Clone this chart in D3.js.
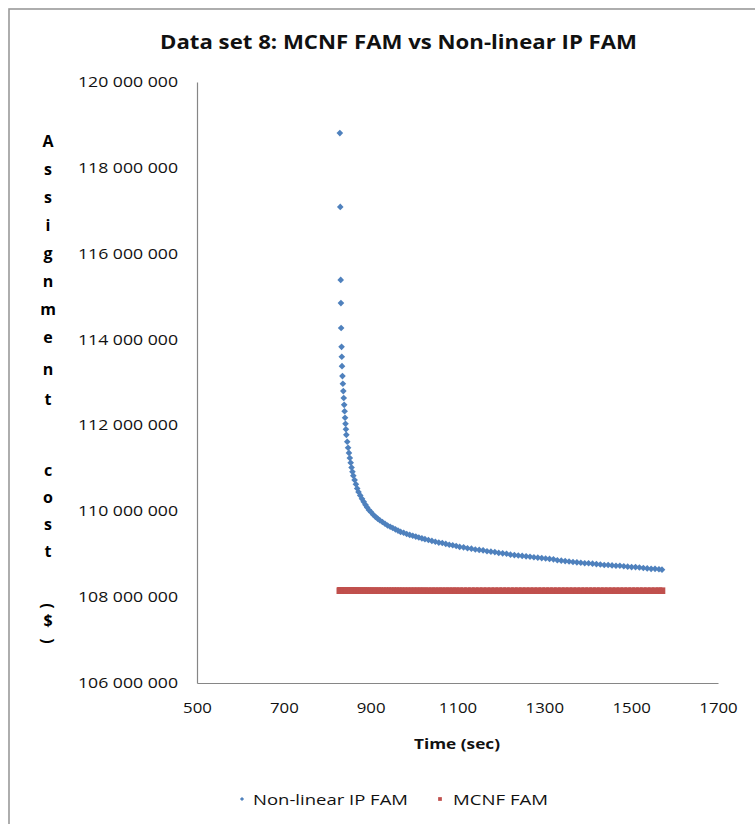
<!DOCTYPE html>
<html>
<head>
<meta charset="utf-8">
<script src="https://cdn.jsdelivr.net/npm/d3@7"></script>
<style>
  body { margin: 0; background: #fff; }
  text { font-family: "Open Sans", "DejaVu Sans", sans-serif; }
</style>
</head>
<body>
<svg id="chart" width="755" height="824"></svg>
<script>
// ---- data ----
const chartTitle = "Data set 8: MCNF FAM vs Non-linear IP FAM";
const xTitle = "Time (sec)";
const yTitle = "Assignment cost ($)";
const seriesNames = ["Non-linear IP FAM", "MCNF FAM"];

const xTicks = [500, 700, 900, 1100, 1300, 1500, 1700];
const yTicksM = [106, 108, 110, 112, 114, 116, 118, 120];   // millions of $

// solve times (sec) of the non-linear IP iterations
const timeSec = [
  829, 830, 831, 831.5, 832, 833, 833.5, 834, 835, 836,
  837, 838, 839, 840, 841, 842, 843, 844, 846, 848,
  850, 852, 854, 856, 858, 860, 863, 866, 869, 872,
  876, 880, 884, 888, 892, 896, 901, 906, 911, 916,
  921, 927, 933, 939, 945, 951, 957, 963, 969, 976,
  983, 990, 997, 1004, 1011, 1018, 1025, 1033, 1041, 1049,
  1057, 1065, 1073, 1081, 1089, 1097, 1105, 1114, 1123, 1132,
  1141, 1150, 1159, 1168, 1177, 1186, 1195, 1204, 1213, 1222,
  1231, 1240, 1249, 1258, 1267, 1276, 1285, 1294, 1303, 1312,
  1321, 1330, 1339, 1348, 1357, 1366, 1375, 1384, 1393, 1402,
  1411, 1420, 1429, 1438, 1447, 1456, 1465, 1474, 1483, 1492,
  1501, 1510, 1519, 1528, 1537, 1546, 1555, 1564, 1571
];

// Non-linear IP FAM assignment cost at each time (millions of $)
const nlipCostM = [
  118.81, 117.09, 115.39, 114.85, 114.27, 113.83, 113.60, 113.38, 113.15, 112.97,
  112.80, 112.64, 112.48, 112.33, 112.18, 112.04, 111.91, 111.78, 111.62, 111.48,
  111.36, 111.24, 111.13, 111.02, 110.92, 110.83, 110.73, 110.63, 110.53, 110.45,
  110.37, 110.29, 110.22, 110.15, 110.09, 110.03, 109.98, 109.92, 109.87, 109.83,
  109.79, 109.75, 109.71, 109.67, 109.64, 109.61, 109.58, 109.55, 109.52, 109.50,
  109.47, 109.45, 109.43, 109.41, 109.39, 109.37, 109.35, 109.33, 109.31, 109.29,
  109.27, 109.26, 109.24, 109.22, 109.21, 109.19, 109.17, 109.16, 109.14, 109.13,
  109.11, 109.10, 109.09, 109.07, 109.06, 109.05, 109.03, 109.02, 109.01, 108.99,
  108.98, 108.97, 108.96, 108.95, 108.94, 108.93, 108.92, 108.91, 108.90, 108.89,
  108.88, 108.86, 108.85, 108.84, 108.83, 108.82, 108.81, 108.80, 108.79, 108.79,
  108.78, 108.77, 108.76, 108.75, 108.75, 108.74, 108.73, 108.73, 108.72, 108.71,
  108.70, 108.70, 108.69, 108.68, 108.67, 108.66, 108.66, 108.65, 108.64
];

// MCNF FAM optimum (millions of $), shown at every iteration time
const mcnfCostM = 108.15;

// ---- drawing ----
const blue = "#4F81BD", red = "#C0504D", ink = "#111";
const svg = d3.select("#chart");

svg.append("rect").attr("width", 755).attr("height", 824).attr("fill", "#fff");
// chart-area frame
svg.append("rect")
  .attr("x", 9).attr("y", 9).attr("width", 770).attr("height", 840)
  .attr("fill", "none").attr("stroke", "#9a9a9a").attr("stroke-width", 1.6);

const x = d3.scaleLinear().domain([500, 1700]).range([197, 718]);
const y = d3.scaleLinear().domain([106, 120]).range([683, 82]);

function stretchTo(sel, w) {
  sel.attr("textLength", w).attr("lengthAdjust", "spacingAndGlyphs");
}

// title
const t = svg.append("text")
  .attr("x", 398.5).attr("y", 49)
  .attr("text-anchor", "middle")
  .attr("font-size", 19).attr("font-weight", 700).attr("fill", ink)
  .text(chartTitle);
stretchTo(t, 477);

// y axis
const fmtCost = v => d3.format(",")(Math.round(v * 1e6)).replace(/,/g, " ");
const yAxis = svg.append("g")
  .attr("transform", `translate(${x(500)},0)`)
  .call(d3.axisLeft(y).tickValues(yTicksM).tickFormat(fmtCost).tickSize(0).tickPadding(19));
yAxis.select(".domain").attr("stroke", "#868686").attr("stroke-width", 1.2);
yAxis.selectAll("text")
  .attr("font-size", 14).attr("fill", ink).attr("font-family", null)
  .each(function () { stretchTo(d3.select(this), 100); });

// x axis
const xAxis = svg.append("g")
  .attr("transform", `translate(0,${y(106)})`)
  .call(d3.axisBottom(x).tickValues(xTicks).tickFormat(d3.format("d")).tickSize(0).tickPadding(20));
xAxis.select(".domain").attr("stroke", "#868686").attr("stroke-width", 1.2);
xAxis.selectAll("text")
  .attr("font-size", 14).attr("fill", ink).attr("font-family", null)
  .each(function () {
    const s = d3.select(this);
    const w = this.getComputedTextLength();
    stretchTo(s, w * 1.2);
  });

// x axis title
const xt = svg.append("text")
  .attr("x", 457).attr("y", 749)
  .attr("text-anchor", "middle")
  .attr("font-size", 15).attr("font-weight", 700).attr("fill", ink)
  .text(xTitle);
stretchTo(xt, 86);

// y axis title: letters stacked vertically
const yTitleX = 48;
const letterBaselines = [147, 175, 203, 231, 259, 287, 315, 343, 375, 405,
                         null, 476, 503, 530, 557, null, 606, 626, 641];
const yt = svg.append("g").attr("font-size", 16).attr("font-weight", 700).attr("fill", "#000");
Array.from(yTitle).forEach((ch, i) => {
  const by = letterBaselines[i];
  if (ch === " " || by == null) return;
  if (ch === "(" || ch === ")") {
    yt.append("text")
      .attr("x", yTitleX).attr("y", by)
      .attr("text-anchor", "middle").attr("dominant-baseline", "central")
      .attr("transform", `rotate(90,${yTitleX},${by})`)
      .text(ch);
  } else {
    yt.append("text")
      .attr("x", yTitleX).attr("y", by)
      .attr("text-anchor", "middle")
      .text(ch);
  }
});

// series
const pts = timeSec.map((tt, i) => ({ t: tt, c: nlipCostM[i] }));
const diamond = d3.symbol(d3.symbolSquare, 22)();
const square = d3.symbol(d3.symbolSquare, 44)();

svg.append("g").selectAll("path").data(pts).join("path")
  .attr("d", diamond)
  .attr("transform", d => `translate(${x(d.t)},${y(d.c)}) rotate(45)`)
  .attr("fill", blue);

svg.append("g").selectAll("path").data(timeSec).join("path")
  .attr("d", square)
  .attr("transform", d => `translate(${x(d)},${y(mcnfCostM)})`)
  .attr("fill", red);

// legend
const lg = svg.append("g").attr("font-size", 15).attr("fill", ink);
lg.append("path").attr("d", d3.symbol(d3.symbolSquare, 9)())
  .attr("transform", "translate(242,799) rotate(45)").attr("fill", blue);
const l1 = lg.append("text").attr("x", 253).attr("y", 804.5).text(seriesNames[0]);
stretchTo(l1, 155);
lg.append("path").attr("d", d3.symbol(d3.symbolSquare, 14)())
  .attr("transform", "translate(440,799)").attr("fill", red);
const l2 = lg.append("text").attr("x", 453).attr("y", 804.5).text(seriesNames[1]);
stretchTo(l2, 95);
</script>
</body>
</html>
